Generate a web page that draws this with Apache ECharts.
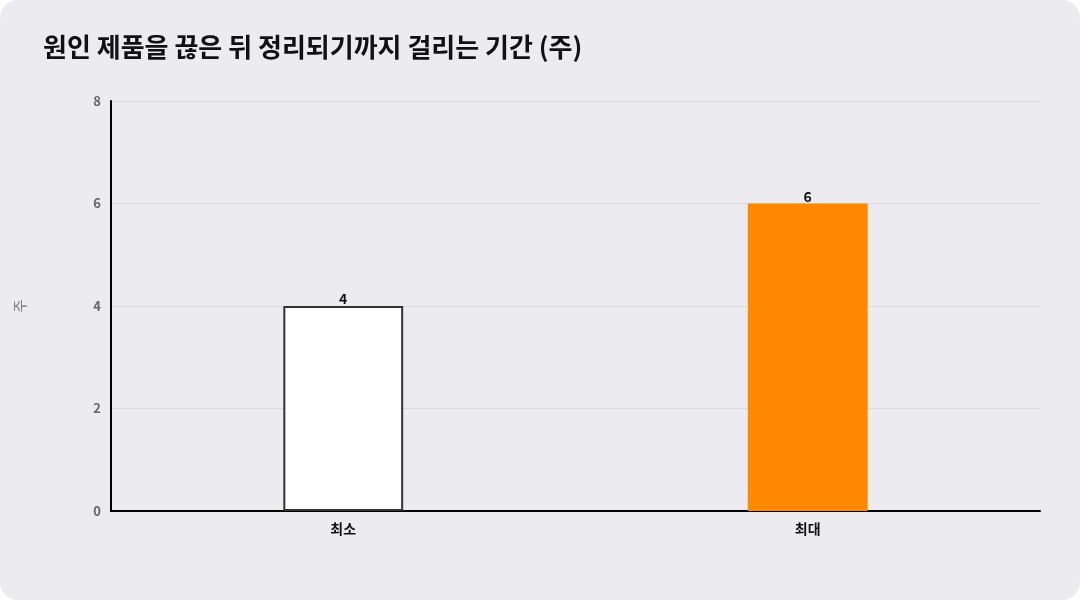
<!DOCTYPE html>
<html><head><meta charset="utf-8">
<script src="https://cdn.jsdelivr.net/npm/echarts@6/dist/echarts.min.js"></script>
<style>
html,body{margin:0;padding:0;background:#ffffff;}
#wrap{position:absolute;left:0;top:0;width:1080px;height:600px;background:#ecebf0;border-radius:18px;overflow:hidden;}
#c{width:1080px;height:600px;}
</style></head>
<body><div id="wrap"><div id="c"></div></div>
<script>
const categories = ['최소', '최대'];
const values = [4, 6];
const barColors = ['#ffffff', '#ff8800'];
const barBorders = ['#333333', '#ff8800'];
const yTicks = [0, 2, 4, 6, 8];

const chart = echarts.init(document.getElementById('c'));
chart.setOption({
  backgroundColor: 'transparent',
  textStyle: {fontFamily: '"Noto Sans CJK KR", "Noto Sans", sans-serif'},
  title: {
    text: '원인 제품을 끊은 뒤 정리되기까지 걸리는 기간 (주)',
    left: 38, top: 29,
    textStyle: {fontSize: 26, fontWeight: 'bold', color: '#111111', fontFamily: '"Noto Sans CJK KR", sans-serif'}
  },
  grid: {left: 111, right: 40, top: 101, bottom: 89, containLabel: false},
  xAxis: {
    type: 'category', data: categories,
    axisLine: {lineStyle: {color: '#000000', width: 2}},
    axisTick: {show: false},
    axisLabel: {color: '#111111', fontWeight: 'bold', fontSize: 14, margin: 11}
  },
  yAxis: {
    type: 'value', min: yTicks[0], max: yTicks[yTicks.length-1], interval: 2,
    name: '주', nameLocation: 'middle', nameGap: 84, nameRotate: 90,
    nameTextStyle: {color: '#777777', fontSize: 14},
    axisLine: {show: true, lineStyle: {color: '#000000', width: 2}},
    axisTick: {show: false},
    axisLabel: {color: '#666666', fontWeight: 'bold', fontSize: 13, margin: 10},
    splitLine: {lineStyle: {color: '#d9d8de', width: 1}}
  },
  series: [{
    type: 'bar',
    barWidth: '25.8%',
    data: values.map((v, i) => ({
      value: v,
      itemStyle: {color: barColors[i], borderColor: barBorders[i], borderWidth: i === 0 ? 2 : 0}
    })),
    label: {show: true, position: 'top', distance: 0, color: '#111111', fontWeight: 'bold', fontSize: 14}
  }]
});
</script></body></html>
